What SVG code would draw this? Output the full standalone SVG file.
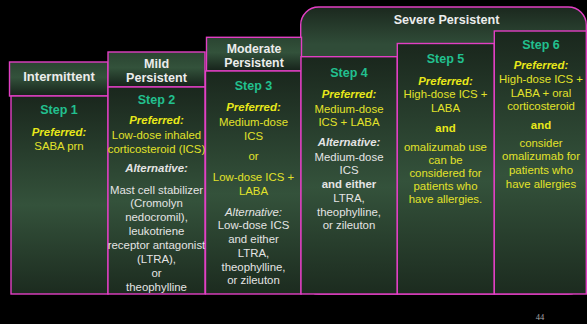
<svg xmlns="http://www.w3.org/2000/svg" width="587" height="324" viewBox="0 0 587 324">
<defs>
<linearGradient id="colGrad" x1="0" y1="0" x2="0" y2="1">
<stop offset="0" stop-color="#1a271d"/>
<stop offset="0.55" stop-color="#34523b"/>
<stop offset="1" stop-color="#1c2b1f"/>
</linearGradient>
<linearGradient id="hdrGrad" x1="0" y1="0" x2="0" y2="1">
<stop offset="0" stop-color="#2a4431"/>
<stop offset="0.45" stop-color="#33523b"/>
<stop offset="1" stop-color="#16221a"/>
</linearGradient>
<linearGradient id="sevGrad" x1="0" y1="0" x2="0" y2="1">
<stop offset="0" stop-color="#1b281e"/>
<stop offset="0.13" stop-color="#304c38"/>
<stop offset="0.5" stop-color="#304b37"/>
<stop offset="1" stop-color="#1c2b1f"/>
</linearGradient>
<style>
.box{stroke:#e23fc4;stroke-width:1.4}
.col{fill:url(#colGrad)}
.hdr{fill:url(#hdrGrad)}
text{font-family:"Liberation Sans",Arial,sans-serif;text-anchor:middle;font-size:11.4px}
.h{fill:#ececec;font-weight:bold;font-size:12.6px}
.st{fill:#22c08f;font-weight:bold;font-size:12.5px}
.pf{fill:#e8e81a;font-weight:bold;font-style:italic}
.y{fill:#e2e22a}
.yb{fill:#e8e81a;font-weight:bold}
.w{fill:#e4e4e4}
.wi{fill:#e4e4e4;font-style:italic}
.wbi{fill:#e4e4e4;font-weight:bold;font-style:italic}
.wb{fill:#e4e4e4;font-weight:bold}
.pg{fill:#a8a8a8;font-family:"Liberation Serif","Times New Roman",serif;font-size:8.5px}
</style>
</defs>
<rect width="587" height="324" fill="#000"/>

<g id="severe">
<rect class="box" x="300.7" y="7" width="285.6" height="287" rx="18" ry="18" fill="url(#sevGrad)"/>
<text class="h" x="446.5" y="24">Severe Persistent</text>
</g>

<g id="intermittent">
<rect class="box hdr" x="9.5" y="62" width="98.5" height="34"/>
<text class="h" x="59" y="81" style="font-size:13px">Intermittent</text>
</g>
<g id="step1">
<rect class="box col" x="11" y="96" width="97" height="198"/>
<text class="st" x="59" y="114.3">Step 1</text>
<text class="pf" x="59" y="135.5">Preferred:</text>
<text class="y" x="59" y="150">SABA prn</text>
</g>

<g id="mild">
<rect class="box hdr" x="108" y="52" width="97" height="35"/>
<text class="h" x="156.5" y="67.7">Mild</text>
<text class="h" x="156.5" y="82.3">Persistent</text>
</g>
<g id="step2">
<rect class="box col" x="108" y="87" width="97" height="207"/>
<text class="st" x="156.5" y="103.5">Step 2</text>
<text class="pf" x="156.5" y="124">Preferred:</text>
<text class="y" x="156.5" y="138.7">Low-dose inhaled</text>
<text class="y" x="156.5" y="152.7">corticosteroid (ICS)</text>
<text class="wbi" x="156.5" y="172.3">Alternative:</text>
<text class="w" x="156.5" y="193.5">Mast cell stabilizer</text>
<text class="w" x="156.5" y="207.4">(Cromolyn</text>
<text class="w" x="156.5" y="221.3">nedocromil),</text>
<text class="w" x="156.5" y="235.2">leukotriene</text>
<text class="w" x="156.5" y="249.1">receptor antagonist</text>
<text class="w" x="156.5" y="263">(LTRA),</text>
<text class="w" x="156.5" y="276.9">or</text>
<text class="w" x="156.5" y="290.8">theophylline</text>
</g>

<g id="moderate">
<rect class="box hdr" x="206.5" y="37.3" width="95" height="33.7"/>
<text class="h" x="254" y="52.8" style="font-size:12.3px">Moderate</text>
<text class="h" x="254" y="66.7" style="font-size:12.3px">Persistent</text>
</g>
<g id="step3">
<rect class="box col" x="205.5" y="71" width="95.5" height="223"/>
<text class="st" x="253.5" y="90">Step 3</text>
<text class="pf" x="253.5" y="111">Preferred:</text>
<text class="y" x="253.5" y="125.5">Medium-dose</text>
<text class="y" x="253.5" y="139.5">ICS</text>
<text class="y" x="253.5" y="160">or</text>
<text class="y" x="253.5" y="181">Low-dose ICS +</text>
<text class="y" x="253.5" y="194.5">LABA</text>
<text class="wi" x="253.5" y="215.5">Alternative:</text>
<text class="w" x="253.5" y="229">Low-dose ICS</text>
<text class="w" x="253.5" y="242.7">and either</text>
<text class="w" x="253.5" y="256.5">LTRA,</text>
<text class="w" x="253.5" y="270.5">theophylline,</text>
<text class="w" x="253.5" y="284">or zileuton</text>
</g>

<g id="step4">
<rect class="box col" x="301" y="56.7" width="96.3" height="237.3"/>
<text class="st" x="349" y="77">Step 4</text>
<text class="pf" x="349" y="98">Preferred:</text>
<text class="y" x="349" y="112.5">Medium-dose</text>
<text class="y" x="349" y="125.5">ICS + LABA</text>
<text class="wbi" x="349" y="146.3">Alternative:</text>
<text class="w" x="349" y="160.5">Medium-dose</text>
<text class="w" x="349" y="174">ICS</text>
<text class="wb" x="349" y="188.3">and either</text>
<text class="w" x="349" y="201.5">LTRA,</text>
<text class="w" x="349" y="215.5">theophylline,</text>
<text class="w" x="349" y="229">or zileuton</text>
</g>

<g id="step5">
<rect class="box col" x="397.3" y="43.5" width="97" height="250.5"/>
<text class="st" x="445.5" y="63.3">Step 5</text>
<text class="pf" x="445.5" y="85">Preferred:</text>
<text class="y" x="445.5" y="98.3">High-dose ICS +</text>
<text class="y" x="445.5" y="112">LABA</text>
<text class="yb" x="445.5" y="132">and</text>
<text class="y" x="445.5" y="150.5">omalizumab use</text>
<text class="y" x="445.5" y="163.5">can be</text>
<text class="y" x="445.5" y="176.5">considered for</text>
<text class="y" x="445.5" y="189.5">patients who</text>
<text class="y" x="445.5" y="202.5">have allergies.</text>
</g>

<g id="step6">
<rect class="box col" x="494.3" y="31" width="92" height="263"/>
<text class="st" x="541" y="49.3">Step 6</text>
<text class="pf" x="541" y="69">Preferred:</text>
<text class="y" x="541" y="82.5">High-dose ICS +</text>
<text class="y" x="541" y="96.5">LABA + oral</text>
<text class="y" x="541" y="110">corticosteroid</text>
<text class="yb" x="541" y="128.5">and</text>
<text class="y" x="541" y="146.5">consider</text>
<text class="y" x="541" y="160">omalizumab for</text>
<text class="y" x="541" y="174">patients who</text>
<text class="y" x="541" y="187.5">have allergies</text>
</g>

<g id="connectors"/>

<text class="pg" x="540" y="320">44</text>
</svg>
